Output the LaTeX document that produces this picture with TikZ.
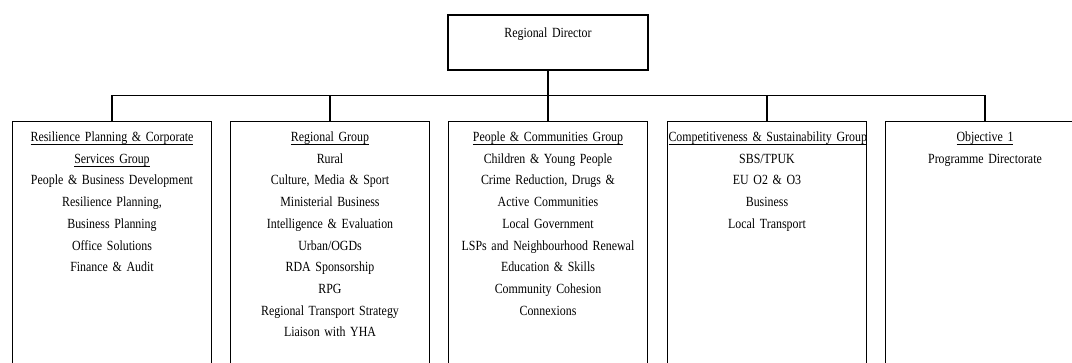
\documentclass[tikz,border=0pt]{standalone}
\usepackage{fontspec}
\setmainfont{Liberation Serif}[FakeStretch=0.85]
\newcommand\myul[1]{\leavevmode\setbox0\hbox{#1}\rlap{\rule[-3.3pt]{\wd0}{0.9pt}}\box0}
\newcommand\txtfont{\fontsize{14}{21.7}\selectfont\fontdimen2\font=3pt\fontdimen3\font=1pt\fontdimen4\font=0.5pt\relax}
\begin{document}
\begin{tikzpicture}[x=1pt,y=-1pt,
  boxstyle/.style={draw,line width=1.5pt,minimum width=199pt,inner sep=0pt},
  dirbox/.style={boxstyle,minimum width=200pt,minimum height=55pt},
  grpbox/.style={boxstyle,minimum height=280pt,anchor=north},
  txt/.style={anchor=base,inner sep=0pt,text width=197pt,align=center,
    font=\txtfont},
  conn/.style={line width=1.5pt}]
\useasboundingbox (0,0) rectangle (1072,362);
\clip (0,0) rectangle (1072,362);
% director
\node[dirbox] (dir) at (548,42.5) {};
\node[txt] (dirt) at (548,37) {Regional Director};
% group boxes
\node[grpbox] (g1) at (112,120.5) {};
\node[grpbox] (g2) at (330,120.5) {};
\node[grpbox] (g3) at (548,120.5) {};
\node[grpbox] (g4) at (767,120.5) {};
\node[grpbox] (g5) at (985,120.5) {};
% texts
\node[txt] (t1) at (112,141.5) {\myul{Resilience Planning \& Corporate}\\
  \myul{Services Group}\\
  People \& Business Development\\
  Resilience Planning,\\
  Business Planning\\
  Office Solutions\\
  Finance \& Audit};
\node[txt] (t2) at (330,141.5) {\myul{Regional Group}\\
  Rural\\
  Culture, Media \& Sport\\
  Ministerial Business\\
  Intelligence \& Evaluation\\
  Urban/OGDs\\
  RDA Sponsorship\\
  RPG\\
  Regional Transport Strategy\\
  Liaison with YHA};
\node[txt] (t3) at (548,141.5) {\myul{People \& Communities Group}\\
  Children \& Young People\\
  Crime Reduction, Drugs \&\\
  Active Communities\\
  Local Government\\
  LSPs and Neighbourhood Renewal\\
  Education \& Skills\\
  Community Cohesion\\
  Connexions};
\node[txt] (t4) at (767,141.5) {\myul{Competitiveness \& Sustainability Group}\\
  SBS/TPUK\\
  EU O2 \& O3\\
  Business\\
  Local Transport};
\node[txt] (t5) at (985,141.5) {\myul{Objective 1}\\
  Programme Directorate};
% connectors
\coordinate (bus) at (548,95.5);
\draw[conn] (dir.south) -- (bus);
\draw[conn] (g1.north) |- (bus) -| (g5.north);
\draw[conn] (g2.north) -- (g2.north |- bus);
\draw[conn] (g3.north) -- (g3.north |- bus);
\draw[conn] (g4.north) -- (g4.north |- bus);
\end{tikzpicture}
\end{document}
